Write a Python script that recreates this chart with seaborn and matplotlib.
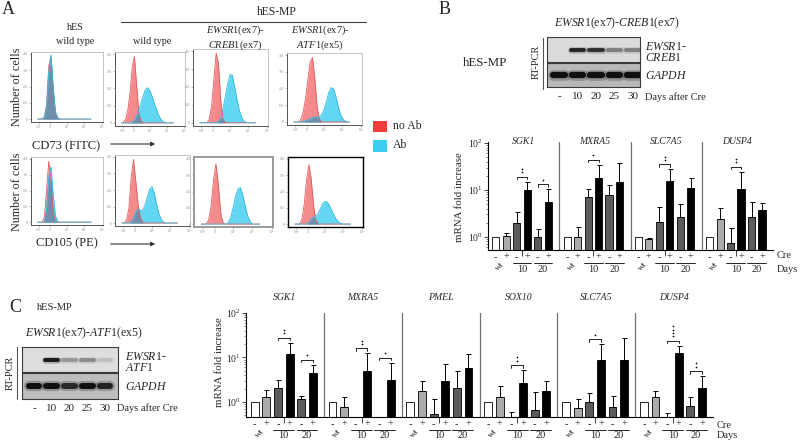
"""Flow cytometry histograms, RT-PCR gels and qPCR fold-change bars (panels A-C)."""

import matplotlib

matplotlib.use("Agg")
import matplotlib.pyplot as plt
import numpy as np
import seaborn as sns
from matplotlib.lines import Line2D
from matplotlib.patches import FancyArrowPatch, Rectangle
from matplotlib.ticker import LogLocator, NullFormatter
from matplotlib.transforms import offset_copy

sns.set_theme(style="white")
plt.rcParams["font.family"] = ["Liberation Serif", "DejaVu Serif"]
plt.rcParams["mathtext.fontset"] = "custom"
plt.rcParams["mathtext.rm"] = "Liberation Serif"
plt.rcParams["mathtext.it"] = "Liberation Serif:italic"
plt.rcParams["mathtext.bf"] = "Liberation Serif:bold"
plt.rcParams["axes.unicode_minus"] = False

W, H = 800, 441

# ---------------- panel A: flow histograms (log fluorescence grid, cell counts) ----------------
HIST_X = [0.375, 0.5, 0.625, 0.75, 0.875, 1.0, 1.125, 1.25, 1.375, 1.5, 1.625, 1.75, 1.875,
          2.0, 2.125, 2.25, 2.375, 2.5, 2.625, 2.75, 2.875, 3.0, 3.125, 3.25, 3.375]
HIST_XTICKS = [0.45, 1.07, 2.0, 2.98, 4.0]
HIST_XTICKLABELS = ["-10²", "0", "10²", "10³", "10⁴"]
HIST_YTICKS = [0, 100, 200, 300, 400]
HIST_YTICKLABELS = ["0", "100", "200", "300", "400"]

CD73_HES_NOAB = [0, 0, 2, 15, 90, 330, 385, 170, 35, 5, 0, 0, 0, 0, 0, 0, 0, 0, 0, 0, 0, 0, 0, 0, 0]
CD73_HES_AB = [0, 0, 0, 10, 75, 290, 395, 190, 45, 8, 0, 0, 0, 0, 0, 0, 0, 0, 0, 0, 0, 0, 0, 0, 0]
CD73_WT_NOAB = [0, 5, 25, 80, 180, 330, 385, 220, 60, 10, 0, 0, 0, 0, 0, 0, 0, 0, 0, 0, 0, 0, 0, 0, 0]
CD73_WT_AB = [0, 0, 0, 0, 0, 5, 15, 40, 75, 115, 155, 190, 205, 190, 160, 120, 85, 50, 25, 10, 3, 0, 0, 0, 0]
CD73_CREB_NOAB = [0, 0, 0, 0, 20, 90, 240, 390, 330, 120, 20, 0, 0, 0, 0, 0, 0, 0, 0, 0, 0, 0, 0, 0, 0]
CD73_CREB_AB = [0, 0, 0, 0, 0, 0, 0, 0, 8, 30, 80, 150, 220, 270, 265, 200, 130, 70, 30, 10, 2, 0, 0, 0, 0]
CD73_ATF_NOAB = [0, 0, 0, 15, 60, 140, 250, 360, 385, 260, 90, 15, 0, 0, 0, 0, 0, 0, 0, 0, 0, 0, 0, 0, 0]
CD73_ATF_AB = [0, 0, 0, 0, 3, 8, 12, 18, 25, 30, 28, 30, 45, 75, 120, 175, 205, 200, 160, 100, 50, 20, 6, 0, 0]

CD105_HES_NOAB = [0, 0, 0, 30, 200, 385, 260, 60, 5, 0, 0, 0, 0, 0, 0, 0, 0, 0, 0, 0, 0, 0, 0, 0, 0]
CD105_HES_AB = [0, 0, 0, 0, 80, 290, 350, 170, 40, 5, 0, 0, 0, 0, 0, 0, 0, 0, 0, 0, 0, 0, 0, 0, 0]
CD105_WT_NOAB = [0, 0, 20, 90, 280, 385, 250, 110, 30, 5, 0, 0, 0, 0, 0, 0, 0, 0, 0, 0, 0, 0, 0, 0, 0]
CD105_WT_AB = [0, 0, 0, 0, 8, 30, 65, 85, 75, 80, 110, 160, 205, 220, 180, 110, 55, 20, 5, 0, 0, 0, 0, 0, 0]
CD105_CREB_NOAB = [0, 0, 0, 25, 110, 270, 370, 240, 60, 5, 0, 0, 0, 0, 0, 0, 0, 0, 0, 0, 0, 0, 0, 0, 0]
CD105_CREB_AB = [0, 0, 0, 0, 0, 0, 0, 0, 0, 0, 0, 8, 40, 100, 170, 215, 225, 180, 110, 50, 15, 0, 0, 0, 0]
CD105_ATF_NOAB = [0, 0, 0, 30, 120, 270, 365, 280, 120, 25, 0, 0, 0, 0, 0, 0, 0, 0, 0, 0, 0, 0, 0, 0, 0]
CD105_ATF_AB = [0, 0, 0, 0, 0, 0, 10, 30, 45, 50, 65, 95, 125, 140, 135, 110, 80, 50, 25, 10, 3, 0, 0, 0, 0]

# ---------------- RT-PCR gels: relative band intensity per lane ----------------
GEL_LANES = ["-", "10", "20", "25", "30"]
B_FUSION_BANDS = [0.0, 0.9, 0.85, 0.45, 0.45]
B_GAPDH_BANDS = [1.0, 1.0, 1.0, 1.0, 1.0]
C_FUSION_BANDS = [0.0, 0.95, 0.35, 0.4, 0.15]
C_GAPDH_BANDS = [1.0, 1.0, 0.85, 1.0, 0.9]

# ---------------- qPCR: mean fold increase and top of error bar ----------------
# bar order in each gene: wt -, wt +, day10 -, day10 +, day20 -, day20 +
B_GENES = ["SGK1", "MXRA5", "SLC7A5", "DUSP4"]
B_MEAN = [
    [1.0, 1.05, 1.95, 10.0, 1.0, 5.4],
    [1.0, 1.0, 7.0, 17.8, 7.8, 15.0],
    [1.0, 0.88, 2.1, 15.5, 2.6, 11.0],
    [1.0, 2.4, 0.73, 10.3, 2.6, 3.75],
]
B_ERR_TOP = [
    [1.0, 1.2, 3.45, 15.0, 1.45, 10.3],
    [1.0, 1.6, 10.3, 34.0, 12.6, 37.0],
    [1.0, 0.95, 4.3, 27.5, 5.0, 18.0],
    [1.0, 4.1, 1.53, 24.5, 5.4, 5.2],
]
# (gene, pair, number of dots)
B_SIG = [(0, 1, 2), (0, 2, 1), (1, 1, 1), (2, 1, 2), (3, 1, 2)]

C_GENES = ["SGK1", "MXRA5", "PMEL", "SOX10", "SLC7A5", "DUSP4"]
C_MEAN = [
    [1.0, 1.32, 2.1, 12.0, 1.15, 4.55],
    [1.0, 0.78, 0.3, 5.0, 0.3, 3.2],
    [1.0, 1.77, 0.53, 3.0, 2.1, 5.9],
    [1.0, 1.3, 0.35, 2.7, 0.66, 1.77],
    [1.0, 0.72, 1.0, 8.8, 0.78, 8.8],
    [1.0, 1.3, 0.35, 12.8, 0.81, 2.1],
]
C_ERR_TOP = [
    [1.0, 1.86, 3.1, 21.5, 1.39, 6.8],
    [1.0, 1.3, 0.3, 12.4, 0.3, 7.6],
    [1.0, 3.0, 1.15, 7.0, 5.0, 11.8],
    [1.0, 2.3, 0.6, 5.2, 1.7, 3.0],
    [1.0, 1.19, 1.6, 19.8, 1.39, 27.8],
    [1.0, 1.8, 0.57, 18.4, 1.27, 3.8],
]
C_SIG = [(0, 1, 2), (0, 2, 1), (1, 1, 2), (1, 2, 1), (3, 1, 2), (4, 1, 1), (5, 1, 4), (5, 2, 2)]

PAIR_DAYS = ["wt", "10", "20"]
BAR_COLORS = ["white", "#ababab", "#5c5c5c", "black", "#5c5c5c", "black"]

RED_FILL, RED_EDGE = "#f38b8d", "#e35d5d"
CYAN_FILL, CYAN_EDGE = "#62d6f2", "#2fb8df"
OVERLAP_FILL = "#6d8fab"

fig = plt.figure(figsize=(8, 4.41), dpi=100)


def rect(x0, y0, x1, y1):
    return [x0 / W, 1 - y1 / H, (x1 - x0) / W, (y1 - y0) / H]


def ftext(x, y, s, **kw):
    kw.setdefault("ha", "center")
    kw.setdefault("va", "center")
    fig.text(x / W, 1 - y / H, s, **kw)


def fline(xs, ys, **kw):
    fig.add_artist(Line2D([x / W for x in xs], [1 - y / H for y in ys],
                          transform=fig.transFigure, **kw))


def xshift(ax, dy_px):
    """x in data units, y at axes fraction, shifted dy pixels downwards."""
    return offset_copy(ax.get_xaxis_transform(), fig=fig, x=0, y=-dy_px * 0.72, units="points")


def draw_hist(ax, red, cyan, box=None):
    x = np.array(HIST_X)
    r = np.array(red, dtype=float)
    c = np.array(cyan, dtype=float)
    ax.fill_between(x, r, color=RED_FILL, lw=0, zorder=1)
    ax.fill_between(x, c, color=CYAN_FILL, lw=0, zorder=1)
    ax.fill_between(x, np.minimum(r, c), color=OVERLAP_FILL, lw=0, zorder=2)
    sns.lineplot(x=x, y=r, ax=ax, color=RED_EDGE, lw=0.6, zorder=3)
    sns.lineplot(x=x, y=c, ax=ax, color=CYAN_EDGE, lw=0.6, zorder=3)
    ax.set_xlim(0, 4.05)
    ax.set_ylim(-18, 412)
    ax.set_xticks(HIST_XTICKS, HIST_XTICKLABELS)
    ax.set_yticks(HIST_YTICKS, HIST_YTICKLABELS)
    ax.tick_params(bottom=True, left=True, length=1.5, width=0.4, labelsize=2.5,
                   colors="#8a8a8a", pad=0.8, direction="out")
    ax.set_xlabel("")
    ax.set_ylabel("")
    for side, sp in ax.spines.items():
        if box is None:
            sp.set_color("#555555" if side in ("left", "bottom") else "#c4c4c4")
            sp.set_linewidth(0.7)
        else:
            sp.set_color(box[0])
            sp.set_linewidth(box[1])


def draw_gel(ax, bands, bg, lw, half, xlim):
    ax.set_facecolor(str(bg))
    for i, v in enumerate(bands):
        if v <= 0:
            continue
        level = bg - (bg - 0.06) * v
        ax.plot([i - half, i + half], [0, 0], color=str(level), lw=lw * 1.7,
                alpha=0.25, solid_capstyle="round")
        ax.plot([i - half, i + half], [0, 0], color=str(level), lw=lw,
                solid_capstyle="round")
    ax.set_xlim(*xlim)
    ax.set_ylim(-1, 1)
    ax.set_xticks([])
    ax.set_yticks([])
    for sp in ax.spines.values():
        sp.set_color("#3a3a3a")
        sp.set_linewidth(0.8)


def draw_expression(ax, genes, means, tops, sigs, gw, ppd, ylim, title_dy):
    ax.set_yscale("log")
    for g, gene in enumerate(genes):
        xs = [g * gw + 0.75 + j for j in range(6)]
        ax.bar(xs, means[g], width=0.68, color=BAR_COLORS, edgecolor="black",
               linewidth=0.6, zorder=2)
        for x, m, t in zip(xs, means[g], tops[g]):
            if t > m:
                ax.errorbar([x], [m], yerr=[[0], [t - m]], fmt="none", ecolor="black",
                            elinewidth=0.7, capsize=1.8, capthick=0.7, zorder=3)
        if g:
            ax.axvline(g * gw, color="#707070", lw=0.9, zorder=1)
        ax.text(g * gw + gw / 2, 1, gene, transform=xshift(ax, title_dy),
                ha="center", va="center", style="italic", fontsize=7)
        for k, day in enumerate(PAIR_DAYS):
            x0 = xs[2 * k]
            ax.text(x0, 0, "-", transform=xshift(ax, 8), ha="center", va="center", fontsize=7.5)
            ax.text(x0 + 1, 0, "+", transform=xshift(ax, 7), ha="center", va="center", fontsize=7.5)
            if day == "wt":
                ax.text(x0 + 0.4, 0, "wt", transform=xshift(ax, 16), ha="center", va="center",
                        fontsize=6.5, rotation=45)
            else:
                ax.plot([x0 - 0.4, x0 + 1.4], [0, 0], transform=xshift(ax, 13), color="black",
                        lw=0.6, clip_on=False)
                ax.text(x0 + 0.5, 0, day, transform=xshift(ax, 19), ha="center", va="center",
                        fontsize=7.5)
    for g, k, n in sigs:
        x1 = g * gw + 0.75 + 2 * k
        x2 = x1 + 1
        yb = max(tops[g][2 * k], tops[g][2 * k + 1]) * 10 ** (5 / ppd)
        drop = 10 ** (2.5 / ppd)
        ax.plot([x1, x1, x2, x2], [yb / drop, yb, yb, yb / drop], color="black", lw=0.6, zorder=3)
        ys = [yb * 10 ** ((4.5 + 3.3 * i) / ppd) for i in range(n)]
        ax.scatter([(x1 + x2) / 2] * n, ys, s=1.5, color="black", lw=0, zorder=3)

    ax.set_xlim(0, gw * len(genes))
    ax.set_ylim(*ylim)
    ax.set_xticks([g * gw + 3.25 for g in range(len(genes))], [""] * len(genes))
    ax.yaxis.set_major_locator(LogLocator(base=10, numticks=5))
    ax.yaxis.set_minor_locator(LogLocator(base=10, subs=np.arange(2, 10), numticks=20))
    ax.yaxis.set_minor_formatter(NullFormatter())
    ax.tick_params(axis="y", which="major", left=True, length=3, width=0.6, labelsize=7, pad=1)
    ax.tick_params(axis="y", which="minor", left=True, length=1.6, width=0.4)
    ax.tick_params(axis="x", bottom=True, length=4, width=0.6, pad=0)
    sns.despine(ax=ax)
    for side in ("left", "bottom"):
        ax.spines[side].set_color("black")
        ax.spines[side].set_linewidth(0.8)


# ---------------- panel A ----------------
ftext(8, 10, "A", fontsize=13)
ftext(75, 27, "hES", fontsize=7.3)
ftext(75, 41, "wild type", fontsize=7.3)
ftext(277, 12, "hES-MP", fontsize=8.4)
fline([121, 366], [22, 22], color="#444444", lw=0.8)
ftext(152, 41, "wild type", fontsize=7.3)
ftext(235, 30, r"$\mathit{EWSR1}$(ex7)-", fontsize=7.5)
ftext(235, 45, r"$\mathit{CREB1}$(ex7)", fontsize=7.5)
ftext(320, 30, r"$\mathit{EWSR1}$(ex7)-", fontsize=7.5)
ftext(320, 45, r"$\mathit{ATF1}$(ex5)", fontsize=7.5)

top_rects = [(31, 52, 103, 122), (115, 52, 185, 126), (193, 49, 268, 126), (287, 53, 362, 125)]
bottom_rects = [(31, 157, 103, 225), (115, 155, 190, 226), (194, 157, 273, 227), (288, 157, 363, 227)]
top_data = [(CD73_HES_NOAB, CD73_HES_AB), (CD73_WT_NOAB, CD73_WT_AB),
            (CD73_CREB_NOAB, CD73_CREB_AB), (CD73_ATF_NOAB, CD73_ATF_AB)]
bottom_data = [(CD105_HES_NOAB, CD105_HES_AB), (CD105_WT_NOAB, CD105_WT_AB),
               (CD105_CREB_NOAB, CD105_CREB_AB), (CD105_ATF_NOAB, CD105_ATF_AB)]
bottom_boxes = [None, None, ("#9a9a9a", 1.4), ("black", 1.0)]

for r, (red, cyan) in zip(top_rects, top_data):
    draw_hist(fig.add_axes(rect(*r)), red, cyan)
for r, (red, cyan), box in zip(bottom_rects, bottom_data, bottom_boxes):
    draw_hist(fig.add_axes(rect(*r)), red, cyan, box)

ftext(17, 87, "Number of cells", rotation=90, fontsize=8.7)
ftext(17, 192, "Number of cells", rotation=90, fontsize=8.7)
ftext(66, 146, "CD73 (FITC)", fontsize=9)
ftext(67, 243, "CD105 (PE)", fontsize=9)
for y in (144, 244):
    fig.add_artist(FancyArrowPatch((108 / W, 1 - y / H), (158 / W, 1 - y / H),
                                   transform=fig.transFigure, arrowstyle="-|>",
                                   mutation_scale=6, lw=0.8, color="#333333"))

fig.add_artist(Rectangle((373 / W, 1 - 132 / H), 14 / W, 11 / H, transform=fig.transFigure,
                         color="#f23c3c", lw=0))
fig.add_artist(Rectangle((373 / W, 1 - 152 / H), 14 / W, 12 / H, transform=fig.transFigure,
                         color="#3ccdf0", lw=0))
ftext(393, 126, "no Ab", fontsize=8.5, ha="left")
ftext(393, 145, "Ab", fontsize=8.5, ha="left")

# ---------------- panel B ----------------
ftext(445, 10, "B", fontsize=13)
ftext(617, 23, r"$\mathit{EWSR1}$(ex7)-$\mathit{CREB1}$(ex7)", fontsize=8.5)
ftext(485, 63, "hES-MP", fontsize=9.3)
ftext(536, 62, "RT-PCR", rotation=90, fontsize=7.5)
fline([543, 543], [38, 89], color="#555555", lw=0.8)

gel_bt = fig.add_axes(rect(547, 37, 640, 62))
gel_bb = fig.add_axes(rect(547, 63, 640, 87))
draw_gel(gel_bt, B_FUSION_BANDS, 0.86, 2.8, 0.36, (-0.65, 4.38))
draw_gel(gel_bb, B_GAPDH_BANDS, 0.72, 4.5, 0.3, (-0.65, 4.38))
gel_bb.set_xticks(range(len(GEL_LANES)), GEL_LANES)
gel_bb.tick_params(bottom=True, length=0, pad=3.5, labelsize=8)
ftext(645, 47, r"$\mathit{EWSR1\text{-}}$", fontsize=8.5, ha="left")
ftext(645, 58, r"$\mathit{CREB1}$", fontsize=8.5, ha="left")
ftext(645, 76, r"$\mathit{GAPDH}$", fontsize=8.5, ha="left")
ftext(645, 97, "Days after Cre", fontsize=7.5, ha="left")

ax_b = fig.add_axes(rect(488, 142, 773, 250))
draw_expression(ax_b, B_GENES, B_MEAN, B_ERR_TOP, B_SIG, 6.8, 47, (0.525, 105), 0)
ftext(460, 197, "mRNA fold increase", rotation=90, fontsize=7.8)
ftext(777, 256, "Cre", fontsize=7.5, ha="left")
ftext(777, 270, "Days", fontsize=7.5, ha="left")

# ---------------- panel C ----------------
ftext(15, 308, "C", fontsize=13)
ftext(37, 308, "hES-MP", fontsize=7.5, ha="left")
ftext(84, 333, r"$\mathit{EWSR1}$(ex7)-$\mathit{ATF1}$(ex5)", fontsize=8.5)
ftext(10, 373, "RT-PCR", rotation=90, fontsize=7.5)
fline([17, 17], [347, 399], color="#555555", lw=0.8)

gel_ct = fig.add_axes(rect(22, 347, 118, 372))
gel_cb = fig.add_axes(rect(22, 373, 118, 399))
draw_gel(gel_ct, C_FUSION_BANDS, 0.87, 2.8, 0.36, (-0.68, 4.73))
draw_gel(gel_cb, C_GAPDH_BANDS, 0.74, 4.3, 0.3, (-0.68, 4.73))
gel_cb.set_xticks(range(len(GEL_LANES)), GEL_LANES)
gel_cb.tick_params(bottom=True, length=0, pad=3.5, labelsize=8)
ftext(125, 357, r"$\mathit{EWSR1\text{-}}$", fontsize=8.5, ha="left")
ftext(125, 368, r"$\mathit{ATF1}$", fontsize=8.5, ha="left")
ftext(125, 387, r"$\mathit{GAPDH}$", fontsize=8.5, ha="left")
ftext(117, 408, "Days after Cre", fontsize=7.5, ha="left")

ax_c = fig.add_axes(rect(246, 313, 713, 417))
draw_expression(ax_c, C_GENES, C_MEAN, C_ERR_TOP, C_SIG, 6.7, 44.5, (0.46, 100), -15)
ftext(219, 362, "mRNA fold increase", rotation=90, fontsize=7.8)
ftext(717, 426, "Cre", fontsize=7.5, ha="left")
ftext(717, 435, "Days", fontsize=7.5, ha="left")

fig.savefig("out.png", dpi=100)
plt.close(fig)
